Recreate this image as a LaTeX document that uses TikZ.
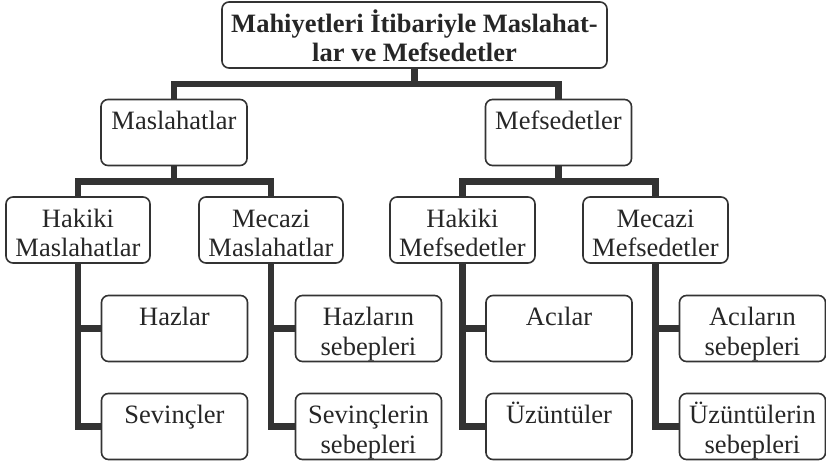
\documentclass[tikz,border=0pt]{standalone}
\usepackage{fontspec}
\setmainfont{Liberation Serif}
\newcommand\ikisatir[2]{\rule{0pt}{30pt}#1\\#2\rule[-6.5pt]{0pt}{6.5pt}}

\begin{document}
\begin{tikzpicture}[x=1pt,y=-1pt,
  kutu/.style={draw=black!80, line width=1.6pt, rounded corners=7pt, inner sep=0pt,
    minimum height=66pt, text width=146pt, align=flush center, text=black!85,
    font=\fontsize{26.5}{29.5}\selectfont},
  bag/.style={draw=black!80, line width=6.5pt}]
  \useasboundingbox (0,0) rectangle (826,464);

  % ust kutu
  \node[kutu, text width=385pt, font=\fontsize{26.5}{29.5}\selectfont\bfseries] (kok) at (414.5,35)
    {\ikisatir{Mahiyetleri İtibariyle Maslahat-}{lar ve Mefsedetler}};

  % ikinci ve ucuncu sira
  \node[kutu] (masl) at (174,132.5) {\ikisatir{Maslahatlar}{}};
  \node[kutu] (mefs) at (558.5,132.5) {\ikisatir{Mefsedetler}{}};
  \node[kutu, text width=144pt] (hm) at (78,230) {\ikisatir{Hakiki}{Maslahatlar}};
  \node[kutu, text width=144pt] (mm) at (271,230) {\ikisatir{Mecazi}{Maslahatlar}};
  \node[kutu, text width=145pt] (hf) at (462.5,230) {\ikisatir{Hakiki}{Mefsedetler}};
  \node[kutu, text width=145pt] (mf) at (655.5,230) {\ikisatir{Mecazi}{Mefsedetler}};

  % yapraklar
  \node[kutu] (haz) at (174.5,328.5) {\ikisatir{Hazlar}{}};
  \node[kutu] (sev) at (174.5,426.5) {\ikisatir{Sevinçler}{}};
  \node[kutu] (hsb) at (368.5,328.5) {\ikisatir{Hazların}{sebepleri}};
  \node[kutu] (ssb) at (368.5,426.5) {\ikisatir{Sevinçlerin}{sebepleri}};
  \node[kutu] (aci) at (559,328.5) {\ikisatir{Acılar}{}};
  \node[kutu] (uzu) at (559,426.5) {\ikisatir{Üzüntüler}{}};
  \node[kutu] (asb) at (752.5,328.5) {\ikisatir{Acıların}{sebepleri}};
  \node[kutu] (usb) at (752.5,426.5) {\ikisatir{Üzüntülerin}{sebepleri}};

  % baglantilar
  \draw[bag] (kok.south) -- ++(0,15) -| (masl.north);
  \draw[bag] (kok.south) -- ++(0,15) -| (mefs.north);
  \foreach \ust/\sol/\sag in {masl/hm/mm, mefs/hf/mf} {
    \draw[bag] (\ust.south) -- ++(0,15) -| (\sol.north);
    \draw[bag] (\ust.south) -- ++(0,15) -| (\sag.north);
  }
  \foreach \ust/\a/\b in {hm/haz/sev, mm/hsb/ssb, hf/aci/uzu, mf/asb/usb} {
    \draw[bag] (\ust.south) |- (\b.west); % alttaki kutu
    \draw[bag] (\ust.south |- \a.west) -- (\a.west);
  }
\end{tikzpicture}
\end{document}
